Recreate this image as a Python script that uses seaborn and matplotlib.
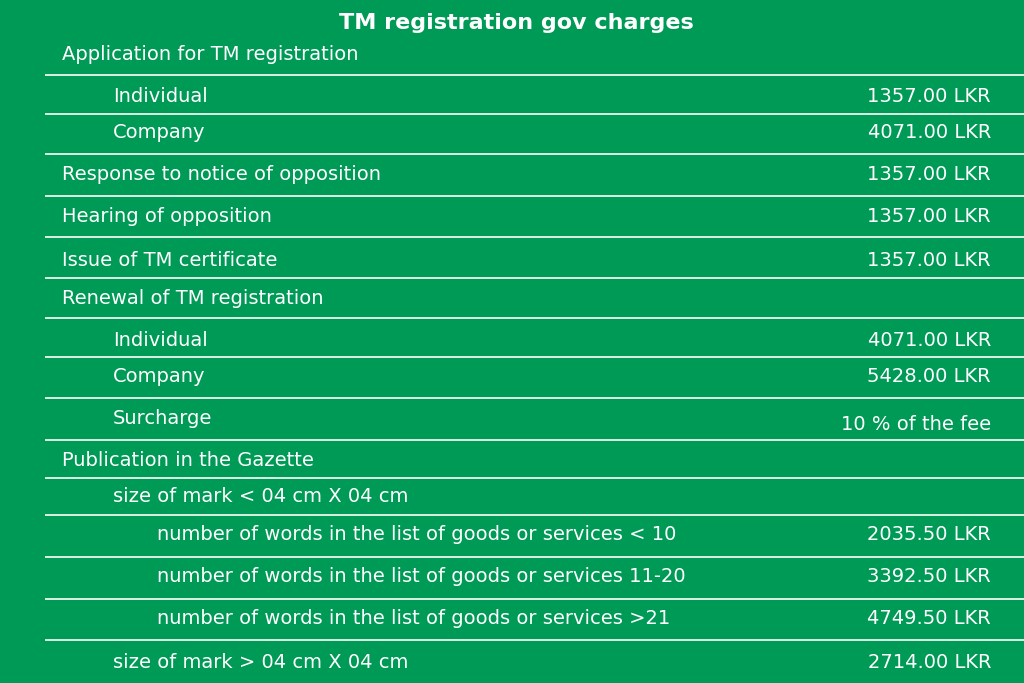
import matplotlib
matplotlib.use("Agg")
import matplotlib.pyplot as plt
import seaborn as sns

title = "TM registration gov charges"
items = ["Application for TM registration", "Individual", "Company",
         "Response to notice of opposition", "Hearing of opposition",
         "Issue of TM certificate", "Renewal of TM registration",
         "Individual", "Company", "Surcharge", "Publication in the Gazette",
         "size of mark < 04 cm X 04 cm",
         "number of words in the list of goods or services < 10",
         "number of words in the list of goods or services 11-20",
         "number of words in the list of goods or services >21",
         "size of mark > 04 cm X 04 cm"]
levels = [0, 1, 1, 0, 0, 0, 0, 1, 1, 1, 0, 1, 2, 2, 2, 1]
charges = ["", "1357.00 LKR", "4071.00 LKR", "1357.00 LKR", "1357.00 LKR",
           "1357.00 LKR", "", "4071.00 LKR", "5428.00 LKR", "10 % of the fee",
           "", "", "2035.50 LKR", "3392.50 LKR", "4749.50 LKR", "2714.00 LKR"]

# layout (pixels)
row_y = [54, 97, 133, 174, 217, 260, 298, 340, 377, 418, 461, 497, 534, 577, 619, 662]
val_dy = [0, 0, 0, 0, 0, 0, 0, 0, 0, 6, 0, 0, 0, 0, 0, 0]
line_y = [75, 114, 154, 196, 237, 278, 318, 357, 398, 440, 478, 515, 557, 599, 640]
indent_x = [62, 113, 157]
green = "#009A57"

sns.set_theme(style="white", rc={"font.family": "DejaVu Sans"})
fig = plt.figure(figsize=(10.24, 6.83), dpi=100, facecolor=green)
ax = fig.add_axes([0, 0, 1, 1])
ax.set_facecolor(green)
ax.set_xlim(0, 1024)
ax.set_ylim(683, 0)
ax.axis("off")

ax.text(516, 23, title, color="white", fontsize=16, fontweight="semibold",
        ha="center", va="center")
ax.hlines(line_y, 45, 1024, color="white", lw=1.2)
for lab, lv, val, y, dy in zip(items, levels, charges, row_y, val_dy):
    ax.text(indent_x[lv], y, lab, color="white", fontsize=14, ha="left", va="center")
    if val:
        ax.text(991, y + dy, val, color="white", fontsize=14, ha="right", va="center")

fig.savefig("out.png", dpi=100, facecolor=green)
